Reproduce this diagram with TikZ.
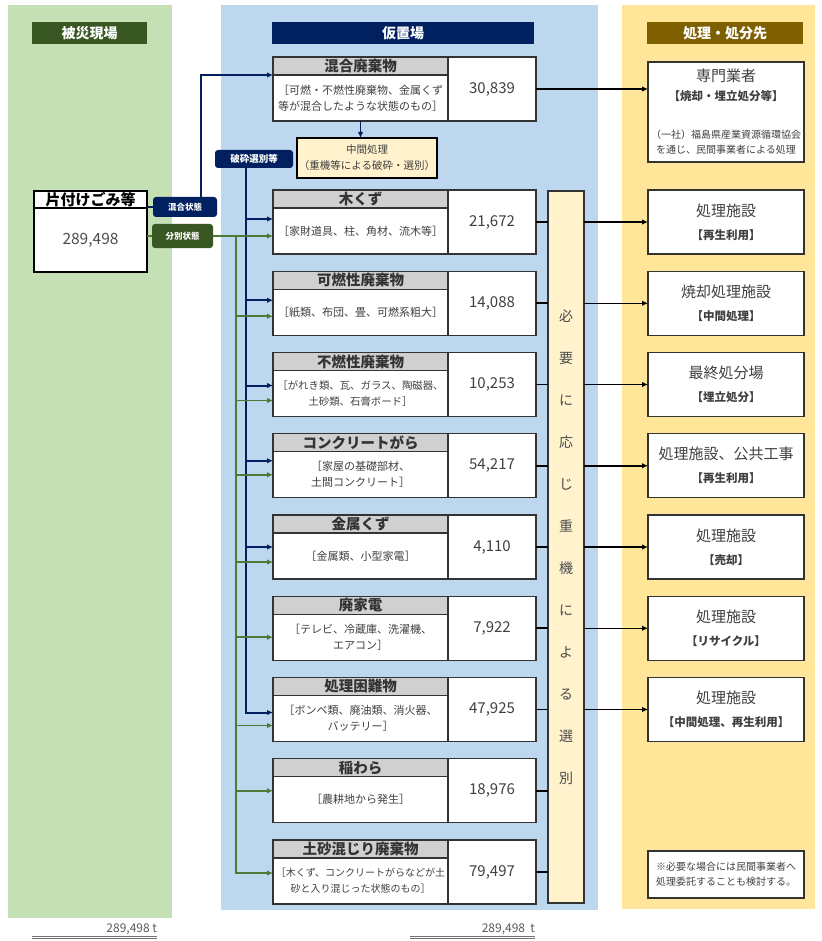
\documentclass[tikz,border=0pt]{standalone}
\usepackage{fontspec}
\setmainfont{Noto Sans CJK JP}
\usetikzlibrary{arrows.meta, positioning, calc}

\definecolor{bggreen}{HTML}{C5E0B4}
\definecolor{bgblue}{HTML}{BDD7EE}
\definecolor{bggold}{HTML}{FFE699}
\definecolor{hdgreen}{HTML}{385723}
\definecolor{hdnavy}{HTML}{002060}
\definecolor{hdbrown}{HTML}{7F6000}
\definecolor{cream}{HTML}{FFF2CC}
\definecolor{headgray}{HTML}{D0D0D0}
\definecolor{boxline}{HTML}{333333}
\definecolor{gline}{HTML}{4E7A35}

\newcommand\subfont{\fontsize{11.5}{14}\selectfont\bfseries}
\newcommand\notefont{\fontsize{10}{12}\selectfont}

\begin{document}
\begin{tikzpicture}[
  x=1pt, y=-1pt,
  every node/.style={inner sep=0pt, outer sep=0pt, align=center},
  colhead/.style={minimum height=22pt, text=white, font=\fontsize{14}{16}\selectfont\bfseries},
  tag/.style={rounded corners=3pt, text=white, font=\fontsize{8.5}{10}\selectfont\bfseries},
  srchead/.style={draw=black, line width=1.3pt, fill=white, minimum width=113pt, minimum height=17pt, font=\fontsize{15}{17}\selectfont\bfseries},
  srcbody/.style={draw=black, line width=1.3pt, fill=white, minimum width=113pt, minimum height=64pt, text=black!70, font=\fontsize{15.5}{17}\selectfont},
  cathead/.style={draw=boxline, line width=1.2pt, fill=headgray, minimum width=175pt, minimum height=18pt, text=black!80, font=\fontsize{14.5}{16}\selectfont\bfseries},
  catbody/.style={draw=boxline, line width=1.2pt, fill=white, minimum width=175pt, minimum height=46pt, text=black!75, font=\fontsize{11}{16}\selectfont},
  amount/.style={draw=boxline, line width=1.2pt, fill=white, minimum width=88pt, minimum height=64pt, text=black!75, font=\fontsize{15}{17}\selectfont},
  dest/.style={draw=boxline, line width=1.2pt, fill=white, minimum width=156pt, minimum height=64pt, text=black!75, font=\fontsize{15}{23}\selectfont},
  total/.style={text=black!65, font=\fontsize{12}{14}\selectfont},
  dline/.style={draw=black!55, line width=1pt, double=white, double distance=1pt},
  narrow/.style={draw=hdnavy, line width=2pt, -{Latex[length=6pt,width=5.5pt]}},
  garrow/.style={draw=gline, line width=1.6pt, -{Latex[length=6pt,width=5.5pt]}},
  barrow/.style={draw=black, line width=1.5pt, -{Latex[length=6pt,width=5.5pt]}},
  stub/.style={draw=black, line width=1.6pt}
]
\useasboundingbox (0,0) rectangle (821,941);

% Column backgrounds
\fill[bggreen] (8,5) rectangle (172,918);
\fill[bgblue] (221,5) rectangle (598,910);
\fill[bggold] (622,5) rectangle (815,909);

% Column headers
\node[colhead, fill=hdgreen, minimum width=115pt] (site) at (89.5,33) {被災現場};
\node[colhead, fill=hdnavy, minimum width=262pt] (yard) at (403,33) {仮置場};
\node[colhead, fill=hdbrown, minimum width=156pt] (outlet) at (725,33) {処理・処分先};

% Disaster site
\node[srchead, anchor=north west] (kata) at (34,191) {片付けごみ等};
\node[srcbody, below=0pt of kata] (kata-v) {289,498};

% State tags
\node[tag, fill=hdnavy, minimum width=64pt, minimum height=20pt] (mixed) at (185,207) {混合状態};
\node[tag, fill=hdgreen, minimum width=61pt, minimum height=24pt] (sorted) at (182.5,236) {分別状態};
\node[tag, fill=hdnavy, minimum width=78pt, minimum height=18pt, font=\fontsize{9.5}{11}\selectfont\bfseries] (crush) at (254,159) {破砕選別等};

% Temporary yard boxes
\node[cathead, anchor=north west] (mix-h) at (273,57) {混合廃棄物};
\node[catbody, below=0pt of mix-h] (mix) {［可燃・不燃性廃棄物、金属くず\\等が混合したような状態のもの］};
\node[amount, anchor=north west] (mix-v) at (mix-h.north east) {30,839};

\node[draw=black, line width=2pt, fill=cream, minimum width=140pt, minimum height=40pt, text=black!75, font=\fontsize{10.5}{16}\selectfont] (mid) at (367,158) {中間処理\\（重機等による破砕・選別）};

\node[cathead, anchor=north west] (wood-h) at (273,190) {木くず};
\node[catbody, below=0pt of wood-h] (wood) {［家財道具、柱、角材、流木等］};
\node[amount, anchor=north west] (wood-v) at (wood-h.north east) {21,672};

\node[cathead, below=17.25pt of wood] (burn-h) {可燃性廃棄物};
\node[catbody, below=0pt of burn-h] (burn) {［紙類、布団、畳、可燃系粗大］};
\node[amount, anchor=north west] (burn-v) at (burn-h.north east) {14,088};

\node[cathead, below=17.25pt of burn] (nonburn-h) {不燃性廃棄物};
\node[catbody, below=0pt of nonburn-h, font=\fontsize{10.4}{16}\selectfont] (nonburn) {［がれき類、瓦、ガラス、陶磁器、\\土砂類、石膏ボード］};
\node[amount, anchor=north west] (nonburn-v) at (nonburn-h.north east) {10,253};

\node[cathead, below=17.25pt of nonburn] (conc-h) {コンクリートがら};
\node[catbody, below=0pt of conc-h] (conc) {［家屋の基礎部材、\\土間コンクリート］};
\node[amount, anchor=north west] (conc-v) at (conc-h.north east) {54,217};

\node[cathead, below=17.25pt of conc] (metal-h) {金属くず};
\node[catbody, below=0pt of metal-h] (metal) {［金属類、小型家電］};
\node[amount, anchor=north west] (metal-v) at (metal-h.north east) {4,110};

\node[cathead, below=17.25pt of metal] (appl-h) {廃家電};
\node[catbody, below=0pt of appl-h] (appl) {［テレビ、冷蔵庫、洗濯機、\\エアコン］};
\node[amount, anchor=north west] (appl-v) at (appl-h.north east) {7,922};

\node[cathead, below=17.25pt of appl] (hard-h) {処理困難物};
\node[catbody, below=0pt of hard-h] (hard) {［ボンベ類、廃油類、消火器、\\バッテリー］};
\node[amount, anchor=north west] (hard-v) at (hard-h.north east) {47,925};

\node[cathead, below=17.25pt of hard] (straw-h) {稲わら};
\node[catbody, below=0pt of straw-h] (straw) {［農耕地から発生］};
\node[amount, anchor=north west] (straw-v) at (straw-h.north east) {18,976};

\node[cathead, below=17.25pt of straw] (soil-h) {土砂混じり廃棄物};
\node[catbody, below=0pt of soil-h, font=\fontsize{10}{16}\selectfont] (soil) {［木くず、コンクリートがらなどが土\\砂と入り混じった状態のもの］};
\node[amount, anchor=north west] (soil-v) at (soil-h.north east) {79,497};

% Heavy machinery sorting
\node[draw=boxline, line width=1.2pt, fill=cream, minimum width=36pt, minimum height=712pt, text=black!70, font=\fontsize{14}{42}\selectfont] (sel) at (566,547) {必\\要\\に\\応\\じ\\重\\機\\に\\よ\\る\\選\\別};

% Destinations
\node[dest, minimum height=100pt, font=\fontsize{15}{17}\selectfont] (spec) at (726,112) {専門業者\\[2pt]\subfont 【焼却・埋立処分等】\\[21pt]\notefont （一社）福島県産業資源循環協会\\[-2pt]\notefont を通じ、民間事業者による処理};
\node[dest] (d1) at (726,222) {処理施設\\\subfont 【再生利用】};
\node[dest, below=17.25pt of d1] (d2) {焼却処理施設\\\subfont 【中間処理】};
\node[dest, below=17.25pt of d2] (d3) {最終処分場\\\subfont 【埋立処分】};
\node[dest, below=17.25pt of d3] (d4) {処理施設、公共工事\\\subfont 【再生利用】};
\node[dest, below=17.25pt of d4] (d5) {処理施設\\\subfont 【売却】};
\node[dest, below=17.25pt of d5] (d6) {処理施設\\\subfont 【リサイクル】};
\node[dest, below=17.25pt of d6] (d7) {処理施設\\\subfont 【中間処理、再生利用】};
\node[dest, minimum height=47pt, font=\fontsize{10}{15}\selectfont] (note) at (726,874.5) {※必要な場合には民間事業者へ\\処理委託することも検討する。};

% Totals
\node[total, anchor=south east] (sum-site) at (157,935) {289,498 t};
\node[total, anchor=south east] (sum-yard) at (535,935) {289,498\ \ t};
\draw[dline] ([xshift=-125pt,yshift=-2.5pt]sum-site.south east) -- ([yshift=-2.5pt]sum-site.south east);
\draw[dline] ([xshift=-125pt,yshift=-2.5pt]sum-yard.south east) -- ([yshift=-2.5pt]sum-yard.south east);

% Mixed route
\draw[draw=hdnavy, line width=1.6pt] (mixed.west -| kata.east) -- (mixed.west);
\draw[narrow] ([xshift=16pt]mixed.north) |- (mix.north west);
\draw[narrow, line width=1.6pt] (mix.south) -- (mix.south |- mid.north);
\draw[barrow] (mix-v.east) -- (mix-v.east -| spec.west);

% Crushing route
\coordinate (nbus) at ([xshift=-8pt]crush.south);
\draw[narrow] (nbus) |- ([yshift=12pt]wood.west);
\draw[narrow] (nbus) |- ([yshift=12pt]burn.west);
\draw[narrow] (nbus) |- ([yshift=8pt]nonburn.west);
\draw[narrow] (nbus) |- ([yshift=14pt]conc.west);
\draw[narrow] (nbus) |- ([yshift=9pt]metal.west);
\draw[narrow] (nbus) |- ([yshift=6pt]hard.west);

% Sorted route
\coordinate (gbus) at ([xshift=23pt]sorted.east);
\draw[draw=gline, line width=1.6pt] (sorted.west -| kata-v.east) -- (sorted.west);
\draw[garrow] (sorted.east) -- ([yshift=-5pt]wood.west);
\draw[garrow] (gbus) |- ([yshift=-4pt]burn.west);
\draw[garrow] (gbus) |- ([yshift=-7pt]nonburn.west);
\draw[garrow] (gbus) |- ([yshift=0pt]conc.west);
\draw[garrow] (gbus) |- ([yshift=-6pt]metal.west);
\draw[garrow] (gbus) |- (appl.west);
\draw[garrow] (gbus) |- ([yshift=-7pt]hard.west);
\draw[garrow] (gbus) |- ([yshift=9pt]straw.west);
\draw[garrow] (gbus) |- ([yshift=8pt]soil.west);

% Stubs into sorting
\draw[stub] (wood-v.east) -- (wood-v.east -| sel.west);
\draw[stub] (burn-v.east) -- (burn-v.east -| sel.west);
\draw[stub] (nonburn-v.east) -- (nonburn-v.east -| sel.west);
\draw[stub] (conc-v.east) -- (conc-v.east -| sel.west);
\draw[stub] (metal-v.east) -- (metal-v.east -| sel.west);
\draw[stub] (appl-v.east) -- (appl-v.east -| sel.west);
\draw[stub] (hard-v.east) -- (hard-v.east -| sel.west);
\draw[stub] (straw-v.east) -- (straw-v.east -| sel.west);
\draw[stub] (soil-v.east) -- (soil-v.east -| sel.west);

% To destinations
\draw[barrow] (sel.east |- d1.west) -- (d1.west);
\draw[barrow] (sel.east |- d2.west) -- (d2.west);
\draw[barrow] (sel.east |- d3.west) -- (d3.west);
\draw[barrow] (sel.east |- d4.west) -- (d4.west);
\draw[barrow] (sel.east |- d5.west) -- (d5.west);
\draw[barrow] (sel.east |- d6.west) -- (d6.west);
\draw[barrow] (sel.east |- d7.west) -- (d7.west);

\end{tikzpicture}
\end{document}
